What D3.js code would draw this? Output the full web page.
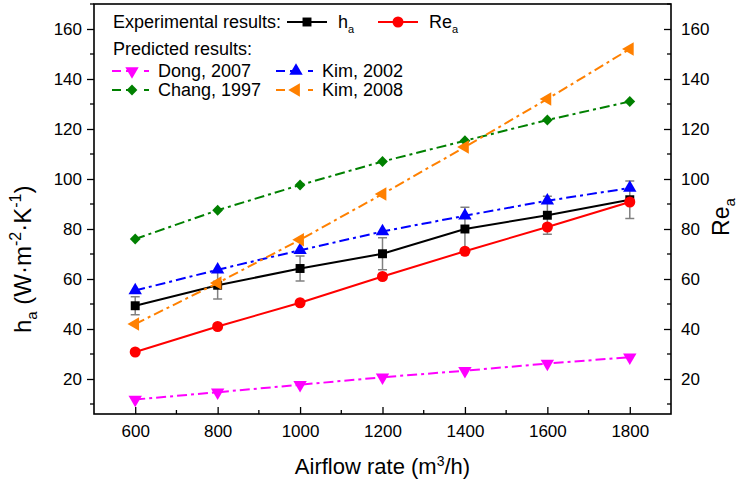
<!DOCTYPE html>
<html><head><meta charset="utf-8">
<script src="https://cdn.jsdelivr.net/npm/d3@7"></script>
<style>body{margin:0;background:#fff}svg{display:block;font-family:"Liberation Sans",Arial,sans-serif}</style>
</head><body><svg id="c" width="743" height="482"></svg>
<script>
const airflow = [600, 800, 1000, 1200, 1400, 1600, 1800];
const haExp = [49.3, 57.5, 64.2, 70.1, 80.0, 85.5, 91.7];
const haErr = [3.6, 5.5, 5.0, 6.4, 8.7, 7.6, 7.5];
const reExp = [30.8, 41.0, 50.5, 61.0, 71.1, 80.8, 90.8];
const dong2007 = [11.8, 14.7, 17.7, 20.7, 23.3, 26.2, 28.7];
const kim2002 = [55.4, 63.7, 71.5, 79.0, 85.3, 91.3, 96.4];
const chang1997 = [76.0, 87.5, 97.6, 107.0, 115.3, 123.6, 131.0];
const kim2008 = [42.0, 58.4, 75.7, 94.0, 112.8, 132.0, 152.0];
const xTicks = [600, 800, 1000, 1200, 1400, 1600, 1800];
const yTicks = [20, 40, 60, 80, 100, 120, 140, 160];

const svg = d3.select("#c");
const L = 94, R = 671, T = 4, B = 414;
const x = d3.scaleLinear().domain([500, 1900]).range([L, R]);
const yL = d3.scaleLinear().domain([6, 170]).range([B, T]);
const yR = d3.scaleLinear().domain([6, 170]).range([B, T]);
const FS = 17;

svg.append("rect").attr("x", L).attr("y", T).attr("width", R - L).attr("height", B - T)
  .attr("fill", "none").attr("stroke", "#000").attr("stroke-width", 1.6);

const minorX = d3.range(700, 1900, 200);
const minorY = d3.range(10, 171, 20);

const gx = svg.append("g").attr("transform", `translate(0,${B})`);
gx.call(d3.axisBottom(x).tickValues(xTicks).tickSize(-7).tickPadding(11).tickFormat(d3.format("d")));
gx.append("g").selectAll("line").data(minorX).join("line")
  .attr("x1", d => x(d)).attr("x2", d => x(d)).attr("y1", 0).attr("y2", -4).attr("stroke", "#000").attr("stroke-width", 1.3);

const gl = svg.append("g").attr("transform", `translate(${L},0)`);
gl.call(d3.axisLeft(yL).tickValues(yTicks).tickSize(7).tickPadding(5));
gl.append("g").selectAll("line").data(minorY).join("line")
  .attr("x1", 0).attr("x2", -4).attr("y1", d => yL(d)).attr("y2", d => yL(d)).attr("stroke", "#000").attr("stroke-width", 1.3);

const gr = svg.append("g").attr("transform", `translate(${R},0)`);
gr.call(d3.axisRight(yR).tickValues(yTicks).tickSize(-7).tickPadding(10));
gr.append("g").selectAll("line").data(minorY).join("line")
  .attr("x1", 0).attr("x2", -4).attr("y1", d => yR(d)).attr("y2", d => yR(d)).attr("stroke", "#000").attr("stroke-width", 1.3);

[gx, gl, gr].forEach(g => {
  g.select(".domain").remove();
  g.selectAll(".tick line").attr("stroke", "#000").attr("stroke-width", 1.3);
  g.selectAll(".tick text").attr("font-size", FS).attr("fill", "#000").attr("font-family", '"Liberation Sans",Arial,sans-serif');
});

// axis titles
const xt = svg.append("text").attr("x", (L + R) / 2).attr("y", 474).attr("text-anchor", "middle").attr("font-size", 22);
xt.append("tspan").text("Airflow rate (m");
xt.append("tspan").attr("font-size", 14).attr("dy", -8).text("3");
xt.append("tspan").attr("dy", 8).text("/h)");

const ytl = svg.append("text").attr("transform", `translate(31,333) rotate(-90)`).attr("text-anchor", "start").attr("font-size", 24);
ytl.append("tspan").text("h");
ytl.append("tspan").attr("font-size", 15).attr("dy", 6).text("a");
ytl.append("tspan").attr("dy", -6).text(" (W·m");
ytl.append("tspan").attr("font-size", 16).attr("dy", -10).text("-2");
ytl.append("tspan").attr("dy", 10).text("·K");
ytl.append("tspan").attr("font-size", 16).attr("dy", -10).text("-1");
ytl.append("tspan").attr("dy", 10).text(")");

const ytr = svg.append("text").attr("transform", `translate(729,${(T + B) / 2 + 8}) rotate(-90)`).attr("text-anchor", "middle").attr("font-size", 23);
ytr.append("tspan").text("Re");
ytr.append("tspan").attr("font-size", 15).attr("dy", 6).text("a");

const sym = {
  square: d3.symbol().type(d3.symbolSquare).size(80),
  circle: d3.symbol().type(d3.symbolCircle).size(95),
  down: d3.symbol().type(d3.symbolTriangle).size(78),
  up: d3.symbol().type(d3.symbolTriangle).size(78),
  diamond: d3.symbol().type(d3.symbolSquare).size(58),
  left: d3.symbol().type(d3.symbolTriangle).size(78)
};
const rot = {square: 0, circle: 0, down: 180, up: 0, diamond: 45, left: -90};

const series = [
  {name: "h", vals: haExp, color: "#000000", shape: "square", dash: null, err: haErr},
  {name: "Re", vals: reExp, color: "#ff0000", shape: "circle", dash: null},
  {name: "Dong, 2007", vals: dong2007, color: "#ff00ff", shape: "down", dash: "10,4,3,4"},
  {name: "Kim, 2002", vals: kim2002, color: "#0000ff", shape: "up", dash: "10,4,3,4"},
  {name: "Chang, 1997", vals: chang1997, color: "#008000", shape: "diamond", dash: "10,4,3,4"},
  {name: "Kim, 2008", vals: kim2008, color: "#ff8000", shape: "left", dash: "10,4,3,4"}
];

const line = d3.line().x(d => x(d[0])).y(d => yL(d[1]));
series.forEach(s => {
  const pts = airflow.map((a, i) => [a, s.vals[i]]);
  const g = svg.append("g");
  if (s.err) {
    const eg = g.append("g").attr("stroke", "#808080").attr("stroke-width", 1.5);
    airflow.forEach((a, i) => {
      const cx = x(a), y1 = yL(s.vals[i] + s.err[i]), y2 = yL(s.vals[i] - s.err[i]);
      eg.append("line").attr("x1", cx).attr("x2", cx).attr("y1", y1).attr("y2", y2);
      eg.append("line").attr("x1", cx - 4.5).attr("x2", cx + 4.5).attr("y1", y1).attr("y2", y1);
      eg.append("line").attr("x1", cx - 4.5).attr("x2", cx + 4.5).attr("y1", y2).attr("y2", y2);
    });
  }
  g.append("path").attr("d", line(pts)).attr("fill", "none").attr("stroke", s.color)
    .attr("stroke-width", 2).attr("stroke-dasharray", s.dash);
  g.selectAll("path.m").data(pts).join("path").attr("class", "m")
    .attr("d", sym[s.shape]())
    .attr("transform", d => `translate(${x(d[0])},${yL(d[1])}) rotate(${rot[s.shape]})`)
    .attr("fill", s.color);
});

// legend
function legSym(s, x0, yb) {
  const yc = yb - 6;
  svg.append("line").attr("x1", x0).attr("x2", x0 + 40).attr("y1", yc).attr("y2", yc)
    .attr("stroke", s.color).attr("stroke-width", 2).attr("stroke-dasharray", s.dash ? "9,5,9" : null);
  svg.append("path").attr("d", sym[s.shape]()).attr("fill", s.color)
    .attr("transform", `translate(${x0 + 20},${yc}) rotate(${rot[s.shape]})`);
}
const LF = 18;
svg.append("text").attr("x", 113).attr("y", 28).attr("font-size", LF).text("Experimental results:");
legSym(series[0], 287, 28);
let t = svg.append("text").attr("x", 338).attr("y", 28).attr("font-size", LF);
t.append("tspan").text("h"); t.append("tspan").attr("font-size", 11).attr("dy", 5).text("a");
legSym(series[1], 378, 28);
t = svg.append("text").attr("x", 429).attr("y", 28).attr("font-size", LF);
t.append("tspan").text("Re"); t.append("tspan").attr("font-size", 11).attr("dy", 5).text("a");
svg.append("text").attr("x", 113).attr("y", 55).attr("font-size", LF).text("Predicted results:");
[[2, 113, 77], [3, 277, 77], [4, 113, 96], [5, 277, 96]].forEach(([i, x0, yb]) => {
  legSym(series[i], x0 - 1, yb);
  svg.append("text").attr("x", x0 + 45).attr("y", yb).attr("font-size", LF).text(series[i].name);
});
</script></body></html>
